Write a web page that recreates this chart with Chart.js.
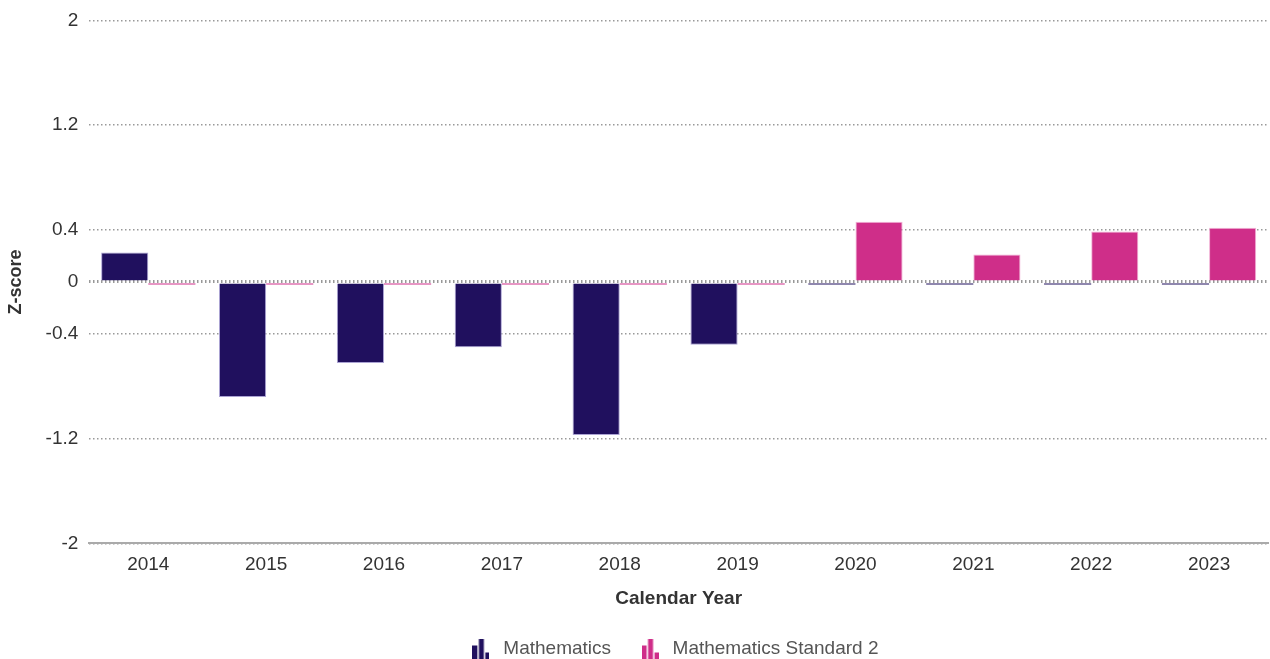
<!DOCTYPE html>
<html>
<head>
<meta charset="utf-8">
<script src="https://cdn.jsdelivr.net/npm/chart.js@4"></script>
<style>
  html, body { margin: 0; padding: 0; background: #fff; }
  #wrap { width: 1270px; height: 659px; }
</style>
</head>
<body>
<div id="wrap"><canvas id="chart" width="1270" height="659"></canvas></div>
<script>
const years = ['2014', '2015', '2016', '2017', '2018', '2019', '2020', '2021', '2022', '2023'];
const mathematics = [0.225, -0.88, -0.62, -0.50, -1.17, -0.48, -0.02, -0.02, -0.02, -0.02];
const mathsStandard2 = [-0.02, -0.02, -0.02, -0.02, -0.02, -0.02, 0.46, 0.21, 0.385, 0.415];
const yTicks = [-2, -1.2, -0.4, 0, 0.4, 1.2, 2];

const navy = '#20105e';
const pink = '#cf2e89';

// little bar-chart glyph used as the legend marker
function barIcon(color) {
  const c = document.createElement('canvas');
  c.width = 17; c.height = 20;
  const g = c.getContext('2d');
  g.fillStyle = color;
  g.fillRect(0, 7, 5, 13);
  g.fillRect(6.5, 0, 5, 20);
  g.fillRect(13, 14, 4, 6);
  return c;
}

// nudge the legend so it is centred under the plot area, like the original
const legendShift = {
  id: 'legendShift',
  afterLayout(chart) {
    const dx = (chart.chartArea.left + chart.chartArea.right) / 2 - chart.width / 2 - 5;
    chart.legend.left += dx;
    chart.legend.right += dx;
  }
};

// near-zero bars are just a thin sliver, so no outline on them
const edge = ctx => (Math.abs(ctx.raw) < 0.05 ? 0 : 1);

Chart.defaults.font.family = '"Liberation Sans", Arial, Helvetica, sans-serif';
Chart.defaults.font.size = 19;
Chart.defaults.color = '#333';

new Chart(document.getElementById('chart').getContext('2d'), {
  type: 'bar',
  data: {
    labels: years,
    datasets: [
      {
        label: 'Mathematics',
        data: mathematics,
        backgroundColor: navy,
        borderColor: 'rgba(150,140,200,0.8)',
        borderWidth: edge,
        pointStyle: barIcon(navy)
      },
      {
        label: 'Mathematics Standard 2',
        data: mathsStandard2,
        backgroundColor: pink,
        borderColor: 'rgba(240,170,210,0.9)',
        borderWidth: edge,
        pointStyle: barIcon(pink)
      }
    ]
  },
  plugins: [legendShift],
  options: {
    responsive: false,
    animation: false,
    layout: { padding: { top: 6, right: 2, left: 1, bottom: 0 } },
    categoryPercentage: 0.8,
    barPercentage: 1.0,
    plugins: {
      tooltip: { enabled: false },
      legend: {
        position: 'bottom',
        maxHeight: 46,
        labels: {
          usePointStyle: true,
          pointStyleWidth: 26,
          padding: 26,
          color: '#555',
          font: { size: 19 }
        }
      }
    },
    scales: {
      x: {
        grid: { display: false, drawTicks: false },
        border: { display: true, color: '#aaa', width: 2 },
        ticks: { padding: 10, color: '#333' },
        title: {
          display: true,
          text: 'Calendar Year',
          font: { weight: 'bold', size: 19 },
          color: '#333',
          padding: { top: 1, bottom: 3 }
        }
      },
      y: {
        min: -2,
        max: 2,
        afterBuildTicks: axis => { axis.ticks = yTicks.map(v => ({ value: v })); },
        border: { display: false, dash: [1.5, 2.5] },
        grid: {
          drawTicks: false,
          color: '#999',
          lineWidth: ctx => (ctx.tick && ctx.tick.value === 0 ? 3 : 1.5)
        },
        ticks: { padding: 11, color: '#333', font: { size: 19, lineHeight: 1 }, callback: v => String(v) },
        title: {
          display: true,
          text: 'Z-score',
          font: { weight: 'bold', size: 18 },
          color: '#333',
          padding: { bottom: 8 }
        }
      }
    }
  }
});
</script>
</body>
</html>
